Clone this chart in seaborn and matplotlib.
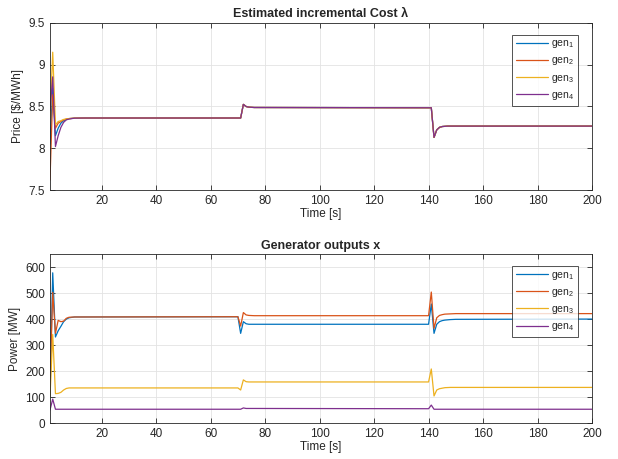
import numpy as np
import pandas as pd
import matplotlib
matplotlib.use("Agg")
import matplotlib.pyplot as plt
import seaborn as sns

# ---------------- data ----------------
gens = ["gen1", "gen2", "gen3", "gen4"]
legend_labels = ["gen$_\\mathregular{1}$", "gen$_\\mathregular{2}$",
                 "gen$_\\mathregular{3}$", "gen$_\\mathregular{4}$"]
colors = ["#0072BD", "#D95319", "#EDB120", "#7E2F8E"]

# Estimated incremental cost (price) breakpoints
t_price = [1, 2, 3, 4, 5, 6, 7, 8, 10, 14, 71, 72, 73, 74, 76, 141, 142, 143, 144, 145, 147, 150, 200]
price_gen1 = [8.05, 8.72, 8.15, 8.24, 8.30, 8.33, 8.345, 8.355, 8.36, 8.362, 8.362, 8.525, 8.50, 8.492, 8.488, 8.485, 8.13, 8.22, 8.25, 8.26, 8.265, 8.265, 8.265]
price_gen2 = [7.62, 8.64, 8.24, 8.30, 8.32, 8.34, 8.35, 8.355, 8.36, 8.362, 8.362, 8.525, 8.50, 8.492, 8.488, 8.485, 8.13, 8.22, 8.25, 8.26, 8.265, 8.265, 8.265]
price_gen3 = [8.35, 9.15, 8.28, 8.32, 8.33, 8.345, 8.35, 8.355, 8.36, 8.362, 8.362, 8.525, 8.50, 8.492, 8.488, 8.485, 8.13, 8.22, 8.25, 8.26, 8.265, 8.265, 8.265]
price_gen4 = [8.45, 8.855, 8.02, 8.15, 8.25, 8.31, 8.34, 8.35, 8.36, 8.362, 8.362, 8.525, 8.50, 8.492, 8.488, 8.485, 8.13, 8.22, 8.25, 8.26, 8.265, 8.265, 8.265]

# Generator outputs breakpoints
t_power = [1, 2, 3, 4, 5, 6, 7, 8, 10, 70, 71, 72, 73, 74, 76, 140, 141, 142, 143, 144, 145, 146, 148, 150, 200]
power_gen1 = [100, 578, 331, 355, 372, 390, 400, 405, 408, 409, 345, 390, 382, 380, 380, 380, 458, 345, 380, 390, 394, 396, 398, 399, 400]
power_gen2 = [150, 503, 345, 395, 390, 392, 403, 407, 408, 409, 373, 425, 416, 414, 413, 413, 504, 364, 405, 414, 417, 419, 420, 421, 421]
power_gen3 = [100, 341, 113, 114, 118, 127, 133, 135, 135, 135, 127, 166, 159, 158, 158, 158, 208, 104, 127, 132, 134, 136, 137, 137, 137]
power_gen4 = [50, 92, 53, 53, 53, 53, 53, 53, 53, 53, 53, 58, 56, 56, 56, 55, 69, 53, 53, 53, 53, 53, 53, 53, 53]

x_ticks = [20, 40, 60, 80, 100, 120, 140, 160, 180, 200]
price_ticks = [7.5, 8, 8.5, 9, 9.5]
power_ticks = [0, 100, 200, 300, 400, 500, 600]

price_df = pd.concat([
    pd.DataFrame({"t": t_price, "v": vals, "gen": g})
    for g, vals in zip(gens, [price_gen1, price_gen2, price_gen3, price_gen4])
])
power_df = pd.concat([
    pd.DataFrame({"t": t_power, "v": vals, "gen": g})
    for g, vals in zip(gens, [power_gen1, power_gen2, power_gen3, power_gen4])
])

# ---------------- style ----------------
sns.set_style("ticks")
plt.rcParams["font.family"] = ["Liberation Sans", "DejaVu Sans"]
plt.rcParams["mathtext.fontset"] = "custom"
plt.rcParams["mathtext.rm"] = "Liberation Sans"
plt.rcParams["axes.edgecolor"] = "#262626"
plt.rcParams["axes.linewidth"] = 0.6

fig = plt.figure(figsize=(6.18, 4.59), dpi=100)
ax1 = fig.add_axes([0.0809, 0.586, 0.877, 0.364])
ax2 = fig.add_axes([0.0809, 0.0784, 0.877, 0.368])

palette = dict(zip(gens, colors))


def style_axis(ax, title, ylabel, yticks, ylim, yfmt, leg_anchor):
    ax.set_xlim(1, 200)
    ax.set_ylim(*ylim)
    ax.set_xticks(x_ticks)
    ax.set_yticks(yticks)
    ax.set_yticklabels([yfmt(v) for v in yticks])
    ax.grid(True, color="#e3e3e3", linewidth=0.6)
    ax.set_axisbelow(True)
    ax.tick_params(direction="in", length=3.5, width=0.6, colors="#262626",
                   labelsize=8.5, top=True, right=True, labelcolor="#262626")
    ax.set_title(title, fontsize=9, fontweight="bold", pad=4)
    ax.set_xlabel("Time [s]", fontsize=8.5, labelpad=1, color="#262626")
    ax.set_ylabel(ylabel, fontsize=8.5, labelpad=3, color="#262626")
    for s in ax.spines.values():
        s.set_visible(True)
        s.set_color("#262626")
        s.set_linewidth(0.6)
    handles, _ = ax.get_legend_handles_labels()
    if ax.get_legend() is not None:
        ax.get_legend().remove()
    leg = ax.legend(handles, legend_labels, loc="upper right",
                    bbox_to_anchor=leg_anchor, fontsize=7.5,
                    frameon=True, fancybox=False, handlelength=3.1,
                    handletextpad=0.25, labelspacing=0.5, borderpad=0.35,
                    borderaxespad=0)
    leg.get_frame().set_edgecolor("#262626")
    leg.get_frame().set_linewidth(0.7)


sns.lineplot(data=price_df, x="t", y="v", hue="gen", palette=palette,
             estimator=None, linewidth=0.9, ax=ax1)
sns.lineplot(data=power_df, x="t", y="v", hue="gen", palette=palette,
             estimator=None, linewidth=0.9, ax=ax2)

style_axis(ax1, "Estimated incremental Cost \u03bb", "Price [\\$/MWh]",
           price_ticks, (7.5, 9.5), lambda v: f"{v:g}", (0.974, 0.93))
style_axis(ax2, "Generator outputs x", "Power [MW]",
           power_ticks, (0, 650), lambda v: f"{v:g}", (0.974, 0.93))

fig.savefig("out.png", dpi=100)
